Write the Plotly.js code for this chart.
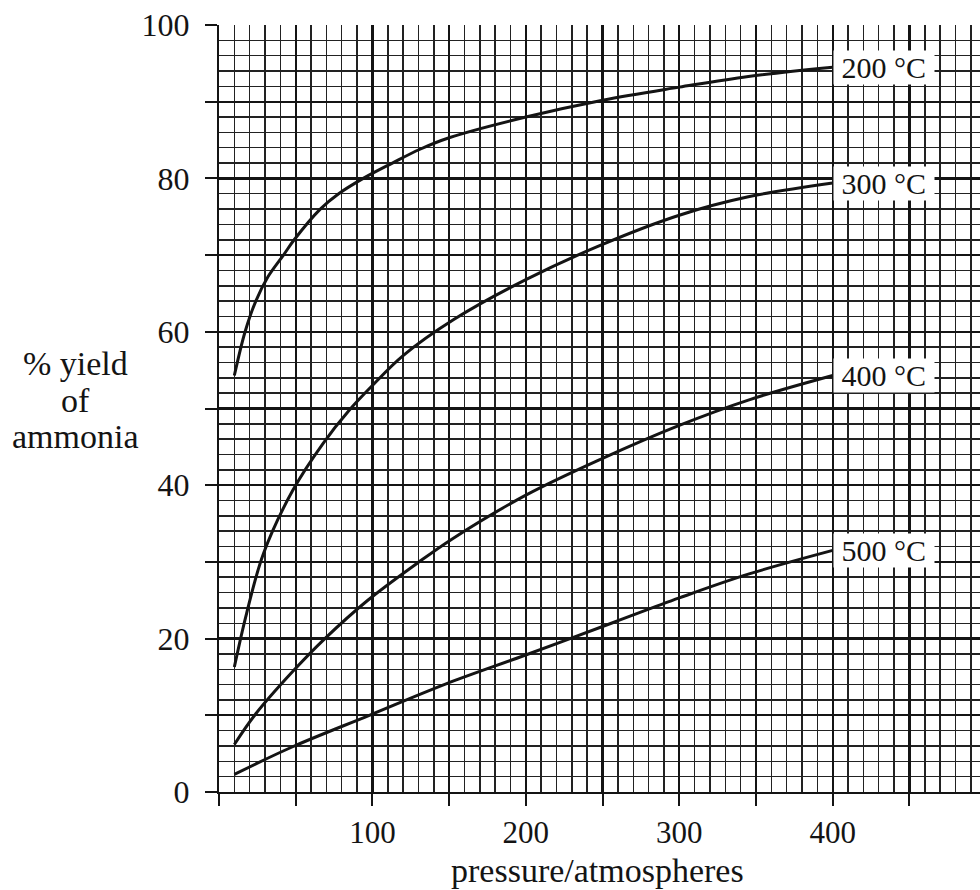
<!DOCTYPE html>
<html>
<head>
<meta charset="utf-8">
<script src="https://cdn.plot.ly/plotly-3.0.1.min.js"></script>
<style>html,body{margin:0;padding:0;background:#fff;}#chart{width:980px;height:890px;}</style>
</head>
<body>
<div id="chart"></div>
<script>
// pressure (atm) and % yield
const p200 = [10, 17, 24, 32, 42, 49, 66, 78, 94, 113, 131, 150, 200, 250, 300, 345, 400];
const y200 = [54.3, 60, 64, 67.2, 70, 72, 76, 78, 80, 82, 83.8, 85.3, 88.0, 90.2, 91.9, 93.3, 94.5];
const p300 = [10, 18, 29, 48, 68, 85, 100, 120, 153, 200, 250, 300, 345, 400];
const y300 = [16.3, 23.3, 31.1, 39.3, 45.5, 49.8, 53.0, 56.9, 61.6, 66.8, 71.4, 75.2, 77.6, 79.4];
const p400 = [10, 24, 48, 69, 97, 129, 152, 200, 250, 300, 345, 400];
const y400 = [6.2, 10.2, 15.7, 20, 25, 29.8, 33.0, 38.7, 43.5, 47.8, 51.1, 54.3];
const p500 = [10, 48, 98, 148, 199, 257, 300, 345, 400];
const y500 = [2.3, 5.9, 10, 14.1, 17.8, 22.1, 25.3, 28.4, 31.5];
const seriesNames = ['200 °C', '300 °C', '400 °C', '500 °C'];

const xTickVals = [0, 50, 100, 150, 200, 250, 300, 350, 400, 450];
const xTickText = ['', '', '100', '', '200', '', '300', '', '400', ''];
const yTickVals = [0, 10, 20, 30, 40, 50, 60, 70, 80, 90, 100];
const yTickText = ['0', '', '20', '', '40', '', '60', '', '80', '', '100'];
const yTitleLines = ['% yield', 'of', 'ammonia'];
const xTitle = 'pressure/atmospheres';

const FONT = '"Liberation Serif", "Times New Roman", serif';
const xs = [p200, p300, p400, p500];
const ys = [y200, y300, y400, y500];

const traces = xs.map((x, i) => ({
  x: x, y: ys[i], type: 'scatter', mode: 'lines', name: seriesNames[i],
  line: {color: '#141414', width: 3, shape: 'spline', smoothing: 1},
  hoverinfo: 'skip'
}));

const annotations = seriesNames.map((n, i) => ({
  x: xs[i][xs[i].length - 1], y: ys[i][ys[i].length - 1], xref: 'x', yref: 'y',
  text: '&nbsp;' + n + '&nbsp;', showarrow: false, xanchor: 'left', yanchor: 'middle',
  bgcolor: '#ffffff', borderpad: 0, font: {family: FONT, size: 30, color: '#141414'}
}));

const titleY = [0.559, 0.511, 0.463];
yTitleLines.forEach((t, i) => annotations.push({
  x: -0.189, y: titleY[i], xref: 'paper', yref: 'paper', text: t, showarrow: false,
  xanchor: 'center', yanchor: 'middle', font: {family: FONT, size: 34, color: '#141414'}
}));
annotations.push({
  x: 0.498, y: -0.102, xref: 'paper', yref: 'paper', text: xTitle, showarrow: false,
  xanchor: 'center', yanchor: 'middle', font: {family: FONT, size: 34, color: '#141414'}
});

const layout = {
  width: 980, height: 890,
  margin: {l: 219, r: 0, t: 25, b: 98, pad: 0},
  paper_bgcolor: '#ffffff', plot_bgcolor: '#ffffff',
  showlegend: false,
  font: {family: FONT, size: 32, color: '#141414'},
  xaxis: {
    range: [0, 496], tickmode: 'array', tickvals: xTickVals, ticktext: xTickText,
    ticks: 'outside', ticklen: 12, tickwidth: 2, tickcolor: '#141414',
    ticklabelstandoff: 0,
    showgrid: true, gridcolor: '#141414', gridwidth: 2.2,
    minor: {dtick: 10, tick0: 0, showgrid: true, gridcolor: '#222222', gridwidth: 1.5, ticks: ''},
    showline: true, linecolor: '#141414', linewidth: 2, zeroline: false,
    tickfont: {family: FONT, size: 31, color: '#141414'}
  },
  yaxis: {
    range: [0, 100], tickmode: 'array', tickvals: yTickVals, ticktext: yTickText,
    ticks: 'outside', ticklen: 12, tickwidth: 2, tickcolor: '#141414',
    ticklabelstandoff: 9,
    showgrid: true, gridcolor: '#141414', gridwidth: 2.2,
    minor: {dtick: 2, tick0: 0, showgrid: true, gridcolor: '#222222', gridwidth: 1.5, ticks: ''},
    showline: true, linecolor: '#141414', linewidth: 2, zeroline: false,
    tickfont: {family: FONT, size: 32, color: '#141414'}
  },
  annotations: annotations
};

Plotly.newPlot('chart', traces, layout, {displayModeBar: false, staticPlot: true});
</script>
</body>
</html>
